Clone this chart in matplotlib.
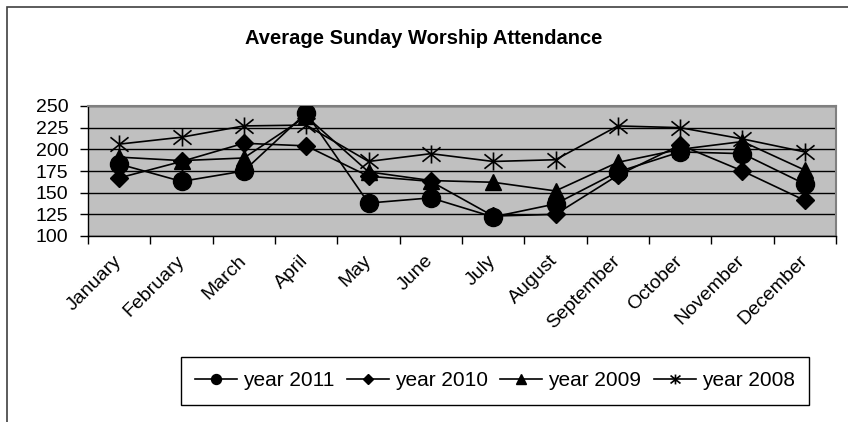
import matplotlib
matplotlib.use("Agg")
import matplotlib.pyplot as plt
from matplotlib.path import Path
from matplotlib.patches import Rectangle

plt.rcParams['font.family'] = ['Liberation Sans', 'DejaVu Sans']

months = ['January', 'February', 'March', 'April', 'May', 'June', 'July',
          'August', 'September', 'October', 'November', 'December']
y2011 = [183, 163, 175, 242, 138, 144, 122, 137, 174, 197, 195, 160]
y2010 = [167, 186, 207, 204, 169, 163, 123, 125, 170, 205, 175, 141]
y2009 = [191, 187, 190, 238, 174, 164, 162, 152, 185, 200, 209, 176]
y2008 = [206, 214, 227, 228, 186, 195, 186, 188, 227, 225, 212, 197]

# excel style asterisk: an X with a vertical bar
star = Path([(-1, -0.8), (1, 0.8), (-1, 0.8), (1, -0.8), (0, -1), (0, 1)],
            [Path.MOVETO, Path.LINETO, Path.MOVETO, Path.LINETO, Path.MOVETO, Path.LINETO])

W, H = 848, 422
fig = plt.figure(figsize=(W / 100, H / 100), dpi=100)
ax = fig.add_axes([88 / W, 1 - 236 / H, 748 / W, 130 / H])
ax.set_facecolor('#c0c0c0')

x = range(len(months))
ax.plot(x, y2011, color='black', lw=1.2, marker='o', ms=13, label='year 2011', zorder=6)
ax.plot(x, y2010, color='black', lw=1.2, marker='D', ms=9, label='year 2010', zorder=5)
ax.plot(x, y2009, color='black', lw=1.2, marker='^', ms=12, label='year 2009', zorder=4)
ax.plot(x, y2008, color='black', lw=1.2, marker=star, ms=13, mew=1.2, label='year 2008', zorder=3)

ax.set_ylim(100, 250)
ax.set_yticks([100, 125, 150, 175, 200, 225, 250])
ax.yaxis.grid(True, color='black', lw=1)
ax.set_axisbelow(True)
ax.set_xlim(-0.5, len(months) - 0.5)
ax.set_xticks([i - 0.5 for i in range(len(months) + 1)])
ax.set_xticklabels([])
ax.set_xticks(list(x), minor=True)
ax.set_xticklabels(months, minor=True, rotation=45, ha='right', va='center',
                   rotation_mode='anchor', fontsize=14)
ax.tick_params(axis='x', which='minor', length=0, pad=16)
ax.tick_params(axis='x', which='major', length=6, width=1, color='black', direction='out')
ax.tick_params(axis='y', length=6, width=1, labelsize=14, pad=8)

for s in ['top', 'right']:
    ax.spines[s].set_color('#808080')
    ax.spines[s].set_linewidth(1.5)
for s in ['left', 'bottom']:
    ax.spines[s].set_color('black')
    ax.spines[s].set_linewidth(1)

fig.text(0.5, 1 - 38 / H, 'Average Sunday Worship Attendance', ha='center', va='center',
         fontsize=14.5, fontweight='bold')

fig.legend(loc='center', bbox_to_anchor=(495 / W, 1 - 381 / H), ncol=4, fontsize=15,
           frameon=True, fancybox=False, edgecolor='black', framealpha=1,
           markerscale=0.55, handlelength=2.0, handletextpad=0.3, columnspacing=0.6,
           borderpad=0.7)
fig.legends[0].get_frame().set_linewidth(1)

# chart area border (cut off at right and bottom in the original)
fig.patches.append(Rectangle((7 / W, -0.1), 1.2, 1.1 - 7 / H, transform=fig.transFigure,
                             fill=False, ec='#404040', lw=1.2))

fig.savefig('out.png', dpi=100)
